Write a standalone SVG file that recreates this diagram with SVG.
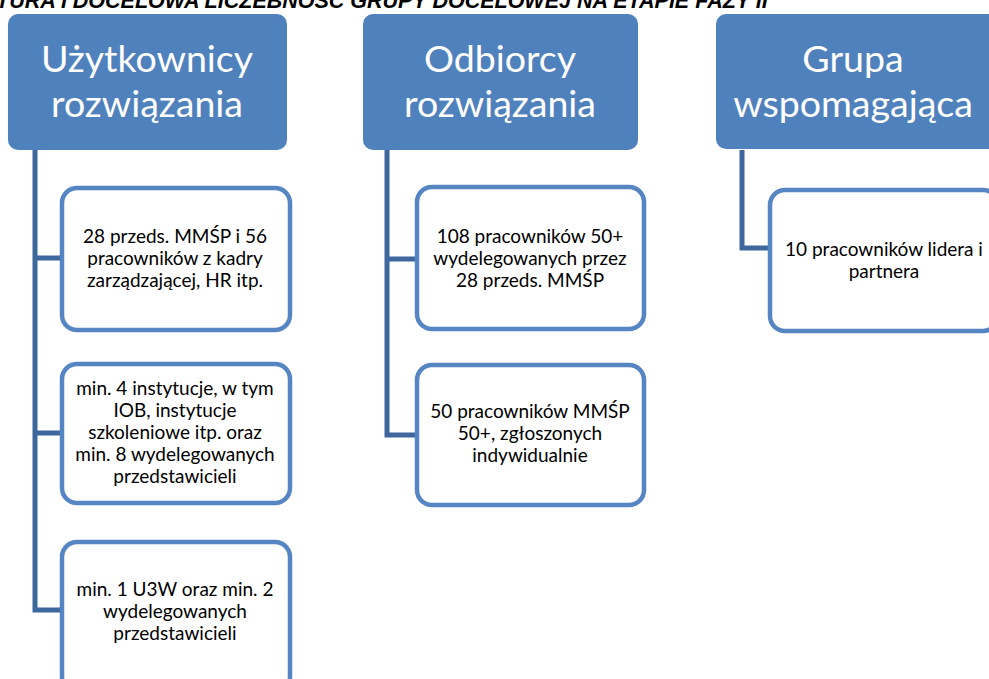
<svg xmlns="http://www.w3.org/2000/svg" width="989" height="679" viewBox="0 0 989 679">
<style>
.hdr{fill:#4F81BD;}
.hdrt{fill:#fff;font-family:Lato,"Open Sans",sans-serif;font-size:37.5px;text-anchor:middle;}
.box{fill:#fff;stroke:#5585C2;stroke-width:4.5;}
.bt{fill:#000;font-family:Lato,"Open Sans",sans-serif;font-size:19px;text-anchor:middle;}
.conn{fill:none;stroke:#3E679D;stroke-width:5;}
.title{font-family:"Liberation Sans",Arial,sans-serif;font-weight:bold;font-style:italic;font-size:21.5px;fill:#000;}
</style>
<rect width="989" height="679" fill="#fff"/>
<text class="title" x="-4" y="7.5">TURA I DOCELOWA LICZEBNOŚĆ GRUPY DOCELOWEJ NA ETAPIE FAZY II</text>
<g id="connectors">
<path class="conn" d="M35 150 V610 H62 M35 258 H62 M35 433 H62"/>
<path class="conn" d="M387 150 V435 H417 M387 259 H417"/>
<path class="conn" d="M742 150 V248 H770"/>
</g>
<g id="h1"><rect class="hdr" x="8" y="14" width="279" height="136" rx="10"/><text class="hdrt" x="147" y="72">Użytkownicy</text><text class="hdrt" x="147" y="117">rozwiązania</text></g>
<g id="h2"><rect class="hdr" x="363" y="14" width="275" height="136" rx="10"/><text class="hdrt" x="500" y="72">Odbiorcy</text><text class="hdrt" x="500" y="117">rozwiązania</text></g>
<g id="h3"><rect class="hdr" x="716" y="14" width="285" height="135" rx="10"/><text class="hdrt" x="853" y="72">Grupa</text><text class="hdrt" x="853" y="117">wspomagająca</text></g>
<g id="c1a"><rect class="box" x="62" y="188" width="228" height="142" rx="15"/><text class="bt" x="175" y="243">28 przeds. MMŚP i 56</text><text class="bt" x="175" y="265">pracowników z kadry</text><text class="bt" x="175" y="287">zarządzającej, HR itp.</text></g>
<g id="c1b"><rect class="box" x="62" y="364" width="228" height="139" rx="15"/><text class="bt" x="175" y="395">min. 4 instytucje, w tym</text><text class="bt" x="175" y="417">IOB, instytucje</text><text class="bt" x="175" y="439">szkoleniowe itp. oraz</text><text class="bt" x="175" y="461">min. 8 wydelegowanych</text><text class="bt" x="175" y="483">przedstawicieli</text></g>
<g id="c1c"><rect class="box" x="62" y="542" width="228" height="150" rx="15"/><text class="bt" x="175" y="596">min. 1 U3W oraz min. 2</text><text class="bt" x="175" y="618">wydelegowanych</text><text class="bt" x="175" y="640">przedstawicieli</text></g>
<g id="c2a"><rect class="box" x="417" y="187" width="227" height="142" rx="15"/><text class="bt" x="530" y="243">108 pracowników 50+</text><text class="bt" x="530" y="265">wydelegowanych przez</text><text class="bt" x="530" y="287">28 przeds. MMŚP</text></g>
<g id="c2b"><rect class="box" x="417" y="365" width="227" height="140" rx="15"/><text class="bt" x="530" y="418">50 pracowników MMŚP</text><text class="bt" x="530" y="440">50+, zgłoszonych</text><text class="bt" x="530" y="462">indywidualnie</text></g>
<g id="c3a"><rect class="box" x="770" y="190" width="228" height="141" rx="15"/><text class="bt" x="884" y="256">10 pracowników lidera i</text><text class="bt" x="884" y="278">partnera</text></g>
</svg>
